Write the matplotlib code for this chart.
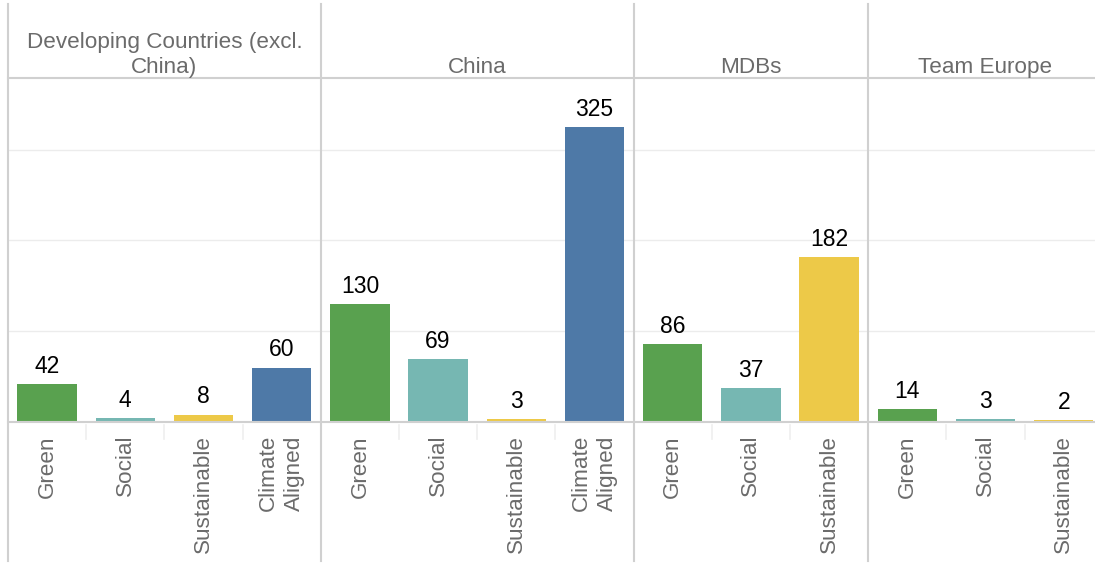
import matplotlib.pyplot as plt
from matplotlib.lines import Line2D

plt.rcParams['font.family'] = ['Liberation Sans', 'DejaVu Sans']

# data
groups = ['Developing Countries (excl.\nChina)', 'China', 'MDBs', 'Team Europe']
categories = [
    ['Green', 'Social', 'Sustainable', 'Climate\nAligned'],
    ['Green', 'Social', 'Sustainable', 'Climate\nAligned'],
    ['Green', 'Social', 'Sustainable'],
    ['Green', 'Social', 'Sustainable'],
]
values = [
    [42, 4, 8, 60],
    [130, 69, 3, 325],
    [86, 37, 182],
    [14, 3, 2],
]

colors = {'Green': '#59A14F', 'Social': '#76B7B2', 'Sustainable': '#EDC948',
          'Climate\nAligned': '#4E79A7'}

W, H = 1095, 565
fig = plt.figure(figsize=(W / 100, H / 100), dpi=100)
fig.patch.set_facecolor('white')

slot = 78.2          # px per bar slot
left0 = 8
base_y = 422         # baseline, px from top
top_y = 78           # header line, px from top
ymax = 379
line_c = '#d0d0d0'

def fx(px):
    return px / W

def fy(py):
    return 1 - py / H

x = left0
edges = [x]
for g, cats, vals in zip(groups, categories, values):
    w = slot * len(cats)
    ax = fig.add_axes([fx(x), fy(base_y), fx(w), (base_y - top_y) / H])
    pos = range(len(cats))
    ax.bar(pos, vals, width=0.76, color=[colors[c] for c in cats], zorder=3)
    ax.set_xlim(-0.5, len(cats) - 0.5)
    ax.set_ylim(0, ymax)
    ax.set_yticks([100, 200, 300])
    ax.yaxis.grid(True, color='#ececec', lw=1, zorder=0)
    ax.tick_params(left=False, labelleft=False, bottom=False, labelbottom=False)
    for s in ax.spines.values():
        s.set_visible(False)
    for p, v in zip(pos, vals):
        ax.annotate(str(v), (p, v), xytext=(0, 4.5), textcoords='offset points',
                    ha='center', va='bottom', fontsize=16.5, color='black')
    # tick labels and little separators
    for i, c in enumerate(cats):
        cx = x + slot * (i + 0.5)
        fig.text(fx(cx), fy(base_y + 13), c, rotation=90, ha='center', va='top',
                 fontsize=16.2, color='#6b6b6b', linespacing=1.3,
                 multialignment='center')
        if i > 0:
            sx = x + slot * i
            fig.add_artist(Line2D([fx(sx), fx(sx)], [fy(base_y + 3), fy(base_y + 17)],
                                  color='#efefef', lw=1.2))
    # header
    fig.text(fx(x + w / 2), fy(top_y), g, ha='center', va='bottom',
             fontsize=16.2, color='#6b6b6b', linespacing=1.25)
    x += w
    edges.append(x)

# panel separators
for e in edges[:-1]:
    fig.add_artist(Line2D([fx(e), fx(e)], [fy(4), fy(561)], color=line_c, lw=1.5))
# header bottom line and baseline
fig.add_artist(Line2D([fx(left0), 1], [fy(top_y), fy(top_y)], color=line_c, lw=1.5))
fig.add_artist(Line2D([fx(left0), 1], [fy(base_y), fy(base_y)], color=line_c, lw=1.5))

fig.savefig('out.png', dpi=100, facecolor='white')
